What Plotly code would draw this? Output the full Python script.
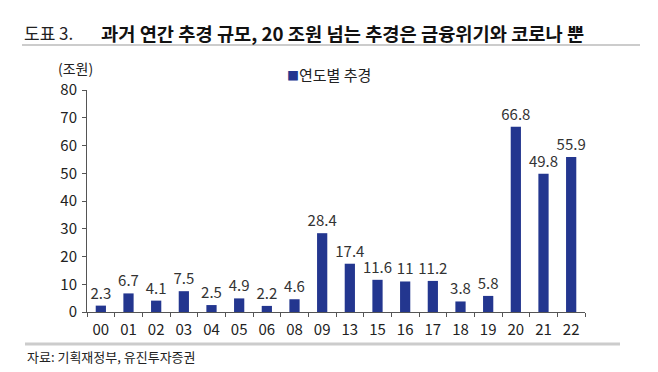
import plotly.graph_objects as go

categories = ["00", "01", "02", "03", "04", "05", "06", "08", "09", "13", "15", "16", "17", "18", "19", "20", "21", "22"]
values = [2.3, 6.7, 4.1, 7.5, 2.5, 4.9, 2.2, 4.6, 28.4, 17.4, 11.6, 11, 11.2, 3.8, 5.8, 66.8, 49.8, 55.9]
labels = ["2.3", "6.7", "4.1", "7.5", "2.5", "4.9", "2.2", "4.6", "28.4", "17.4", "11.6", "11", "11.2", "3.8", "5.8", "66.8", "49.8", "55.9"]
y_ticks = [0, 10, 20, 30, 40, 50, 60, 70, 80]

FONT = "Noto Sans CJK KR"
BAR = "#23368f"

W, H = 658, 372
L, R, T, B = 87, 73, 90, 60
pw = W - L - R
ph = H - T - B

def px(x):
    return (x - L) / pw

def py(y):
    return (H - B - y) / ph

fig = go.Figure()
fig.add_trace(go.Bar(
    x=categories, y=values, text=labels, textposition="outside",
    textfont=dict(family=FONT, size=15, color="#333333"),
    marker=dict(color=BAR, line=dict(width=0)),
    name="연도별 추경", cliponaxis=False, constraintext="none",
))

fig.update_layout(
    width=W, height=H,
    margin=dict(l=L, r=R, t=T, b=B),
    paper_bgcolor="white", plot_bgcolor="white",
    bargap=0.63,
    showlegend=False,
    font=dict(family=FONT, size=15, color="#222222"),
)
fig.update_xaxes(
    type="category", showline=True, linecolor="#555555", linewidth=1,
    ticks="outside", tickson="boundaries", ticklen=4, tickcolor="#555555",
    tickfont=dict(family=FONT, size=15, color="#222222"), showgrid=False,
    automargin=False, ticklabelstandoff=4,
)
fig.update_yaxes(
    range=[0, 80], tickvals=y_ticks, showline=True, linecolor="#555555", linewidth=1,
    ticks="outside", ticklen=4, tickcolor="#555555", showgrid=False, zeroline=False,
    tickfont=dict(family=FONT, size=15, color="#222222"), automargin=False,
    ticklabelstandoff=2,
)

ann = [
    dict(text="도표 3.", x=px(22), y=py(33), xanchor="left", yanchor="middle",
         font=dict(family=FONT, size=17, color="#222222")),
    dict(text="<b>과거 연간 추경 규모, 20 조원 넘는 추경은 금융위기와 코로나 뿐</b>",
         x=px(99), y=py(33), xanchor="left", yanchor="middle",
         font=dict(family=FONT, size=18.7, color="#111111")),
    dict(text="(조원)", x=px(95), y=py(68), xanchor="right", yanchor="middle",
         font=dict(family=FONT, size=14, color="#222222")),
    dict(text="<span style='color:%s;font-size:12px'>■</span>연도별 추경" % BAR, x=px(285), y=py(74),
         xanchor="left", yanchor="middle", font=dict(family=FONT, size=15, color="#222222")),
    dict(text="자료: 기획재정부, 유진투자증권", x=px(25), y=py(356), xanchor="left", yanchor="middle",
         font=dict(family=FONT, size=13, color="#222222")),
]
for a in ann:
    a.update(xref="paper", yref="paper", showarrow=False)
fig.update_layout(annotations=ann)

fig.add_shape(type="line", xref="paper", yref="paper", x0=px(22), x1=px(640), y0=py(45), y1=py(45),
              line=dict(color="#999999", width=1))
fig.add_shape(type="line", xref="paper", yref="paper", x0=px(25), x1=px(620), y0=py(344), y1=py(344),
              line=dict(color="#cccccc", width=3))

fig.write_html("out.html", config={"displayModeBar": False},
               post_script="document.body.style.margin='0';document.body.style.overflow='hidden';")
